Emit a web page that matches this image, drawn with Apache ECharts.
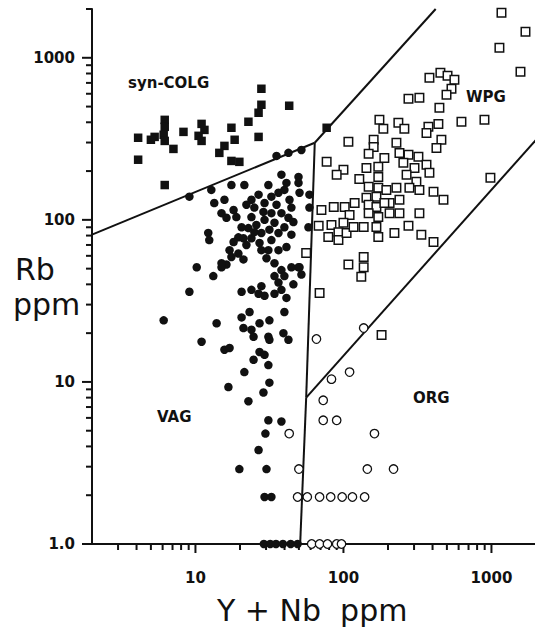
<!DOCTYPE html>
<html>
<head>
<meta charset="utf-8">
<script src="https://cdn.jsdelivr.net/npm/echarts@6/dist/echarts.min.js"></script>
<style>html,body{margin:0;padding:0;background:#fff}#c{width:535px;height:637px}</style>
</head>
<body>
<div id="c"></div>
<script>
// ---- data (Y+Nb ppm, Rb ppm) ----
const synColg = [[27.9,644],[27.9,513],[26.7,458],[22.8,403],[26.7,325],[17.5,370],[18.4,312],[15.7,286],[14.5,259],[17.5,231],[19.8,228],[11.0,391],[11.5,359],[10.5,330],[11.0,307],[8.3,349],[6.2,414],[6.2,375],[6.1,335],[6.2,307],[5.3,325],[5.0,312],[7.1,274],[4.1,321],[4.1,235],[6.2,164],[43,506],[77,370]];
const vag = [[9.1,139],[12.8,153],[17.5,164],[21.4,164],[31.1,164],[38.1,190],[49.7,184],[49.7,169],[35.3,248],[42.5,259],[52,270],
[13.4,127],[15.7,133],[15.0,110],[16.2,103],[18.1,115],[18.9,104],[23.9,133],[25.0,119],[23.9,104],[25.8,93],[22.8,89],[20.5,90],[19.5,78],[21.1,77],[23.9,77],[27.9,83],[27.1,72],[31.1,65],[32.6,75],[36.4,83],[39.9,90],[42.5,103],[38.1,110],[32.6,110],[29.3,127],[32.6,139],[36.4,147],[39.9,153],[43.2,133],[44.5,119],[29.3,100],[34.2,96],[26.7,143],[41.2,169],[50.5,147],[58.9,143],[58.9,119],[58,90],
[12.2,83],[12.4,75],[17.0,65],[19.5,62],[21.1,57],[16.2,53],[15.0,51],[10.2,51],[13.2,45],[41.2,68],[36.4,65],[34.2,54],[38.1,49],[44.5,51],[49.7,51],[34.2,45],[39.9,45],
[9.1,36],[6.1,24],[13.9,23],[11.0,17.7],[15.7,15.8],[17.0,16.2],[20.5,36],[23.9,37],[26.7,35],[29.3,34],[34.2,35],[38.1,37],[41.2,33],[27.9,39],[36.4,41],
[20.5,25],[23.2,27],[21.1,21.5],[23.9,21],[24.7,19],[27.1,23],[31.6,24],[39.9,27],[31.1,19],[31.6,18.2],[39.3,20],[42.5,18.2],[27.1,15.3],[29.3,14.7],[24.7,13.7],[31.1,12.7],[21.4,11.5],[31.6,9.9],[28.8,8.6],[16.7,9.3],[22.8,7.6],[31.1,5.8],[38.1,5.7],[29.7,4.8],[26.7,3.8],[19.8,2.9],[30.2,2.9],[29.3,1.95],[32.6,1.95],
[29,1],[32,1],[35,1],[39,1],[44,1],[49,1],[50.5,51],[52,46],
[22.1,124],[28.8,112],[35.3,124],[45.9,97],[31.6,87],[25,84],[22.1,70],[18.1,73],[44.5,81],[27.9,65],[30.2,58],[15,54],[17.5,59],[45.9,40]];
const wpg = [[175,414],[186,365],[235,397],[258,365],[375,375],[438,391],[364,344],[627,403],[108,303],[160,312],[160,282],[148,256],[228,299],[239,259],[275,252],[321,245],[459,312],[425,278],[77,228],[100,204],[90,190],[128,179],[143,209],[172,213],[189,241],[254,225],[302,209],[364,219],[381,195],[267,190],[311,172],[279,158],[326,153],[406,149],[474,133],[228,158],[239,133],[205,127],[172,184],[148,160],[172,158],[195,153],[143,137],[167,139],[148,124],[167,120],[189,127],[148,110],[172,104],[205,110],[239,110],[119,127],[102,120],[86,120],[71,115],[110,107],[100,96],[83,93],[92.5,84],[79,78.5],[92.5,75],[105,83],[117,90.5],[68,92],[137,90.5],[167,90.5],[172,78.5],[221,83],[275,92],[326,110],[336,81],[406,73],[56,62.5],[108,53],[137,59],[137,51],[132,44.5],[69,35.4],
[1169,1897],[1698,1447],[1132,1153],[1571,820],[381,753],[452,808],[505,774],[562,731],[537,644],[497,591],[445,491],[275,558],[326,567],[897,414],[984,182],[181,19.5]];
const org = [[65.7,18.4],[137,21.5],[83,10.4],[110,11.5],[73,7.7],[73,5.8],[90,5.8],[43,4.8],[162,4.8],[50,2.9],[145,2.9],[218,2.9],[49,1.95],[57,1.95],[69,1.95],[82,1.95],[98,1.95],[115,1.95],[139,1.95],[61,1],[69,1],[78,1],[90,1],[97,1]];

// field boundaries
const lineA = [[2,81],[64,299]];
const lineB = [[64,299],[420,2000]];
const lineC = [[64,299],[56,8]];
const lineD = [[56,8],[51,1]];
const lineE = [[56,8],[2000,312]];

// ticks / labels
const xMajor = [10,100,1000];
const xMinor = [3,4,5,6,7,8,9,20,30,40,50,60,70,80,90,200,300,400,500,600,700,800,900];
const yMajor = [1,10,100,1000];
const yMinor = [2,3,4,5,6,7,8,9,20,30,40,50,60,70,80,90,200,300,400,500,600,700,800,900,2000];
const xLabels = {10:'10',100:'100',1000:'1000'};
const yLabels = {1:'1.0',10:'10',100:'100',1000:'1000'};
const X_MIN = 2, X_MAX = 2000, Y_MIN = 1, Y_MAX = 2000;

const INK = '#111';
const FONT = 'DejaVu Sans';

const chart = echarts.init(document.getElementById('c'), null, {renderer:'svg'});

function lineSeries(d){
  return {type:'line', data:d, symbol:'none', silent:true, clip:false, z:2,
    lineStyle:{color:INK, width:2}};
}
// tick marks: short bar symbols anchored on the axis through the chart's own scales
function tickSeries(data, size, offset){
  return {type:'scatter', data:data, symbol:'rect', symbolSize:size, symbolOffset:offset,
    silent:true, clip:false, z:3, itemStyle:{color:INK, opacity:1}};
}

chart.setOption({
  animation:false,
  grid:{left:92, top:9, width:444, height:535, outerBoundsMode:'none'},
  xAxis:{type:'log', min:X_MIN, max:X_MAX,
    axisLine:{show:true, lineStyle:{color:INK, width:2}},
    axisTick:{show:false}, splitLine:{show:false},
    axisLabel:{margin:26, color:INK, fontFamily:FONT, fontSize:15, fontWeight:'bold',
      formatter:v=>xLabels[Math.round(v)]||''}},
  yAxis:{type:'log', min:Y_MIN, max:Y_MAX,
    axisLine:{show:true, lineStyle:{color:INK, width:2}},
    axisTick:{show:false}, splitLine:{show:false},
    axisLabel:{margin:17, color:INK, fontFamily:FONT, fontSize:15, fontWeight:'bold',
      formatter:v=>yLabels[Math.round(v)]||''}},
  series:[
    lineSeries(lineA), lineSeries(lineB), lineSeries(lineC), lineSeries(lineD), lineSeries(lineE),
    tickSeries(xMajor.map(v=>[v,Y_MIN]), [2,9], [0,4.5]),
    tickSeries(xMinor.map(v=>[v,Y_MIN]), [2,6], [0,3]),
    tickSeries(yMajor.map(v=>[X_MIN,v]), [10,2], [-5,0]),
    tickSeries(yMinor.map(v=>[X_MIN,v]), [6,2], [-3,0]),
    {name:'syn-COLG', type:'scatter', data:synColg, symbol:'rect', symbolSize:8.5, clip:false, z:4,
      itemStyle:{color:INK, opacity:1}},
    {name:'VAG', type:'scatter', data:vag, symbol:'circle', symbolSize:8.5, clip:false, z:4,
      itemStyle:{color:INK, opacity:1}},
    {name:'WPG', type:'scatter', data:wpg, symbol:'rect', symbolSize:8.5, clip:false, z:4,
      itemStyle:{color:'#fff', borderColor:INK, borderWidth:1.5, opacity:1}},
    {name:'ORG', type:'scatter', data:org, symbol:'circle', symbolSize:8.5, clip:false, z:4,
      itemStyle:{color:'#fff', borderColor:INK, borderWidth:1.3, opacity:1}}
  ],
  graphic:[
    {type:'text', left:15, top:254, style:{text:'Rb', font:'30px "DejaVu Sans"', fill:INK}},
    {type:'text', left:13, top:289, style:{text:'ppm', font:'30px "DejaVu Sans"', fill:INK}},
    {type:'text', left:217, top:595, style:{text:'Y + Nb  ppm', font:'30px "DejaVu Sans"', fill:INK}},
    {type:'text', left:128, top:75, style:{text:'syn-COLG', font:'bold 15px "DejaVu Sans"', fill:INK}},
    {type:'text', left:466, top:89, style:{text:'WPG', font:'bold 15px "DejaVu Sans"', fill:INK}},
    {type:'text', left:157, top:409, style:{text:'VAG', font:'bold 15px "DejaVu Sans"', fill:INK}},
    {type:'text', left:413, top:390, style:{text:'ORG', font:'bold 15px "DejaVu Sans"', fill:INK}}
  ]
});
</script>
</body>
</html>
